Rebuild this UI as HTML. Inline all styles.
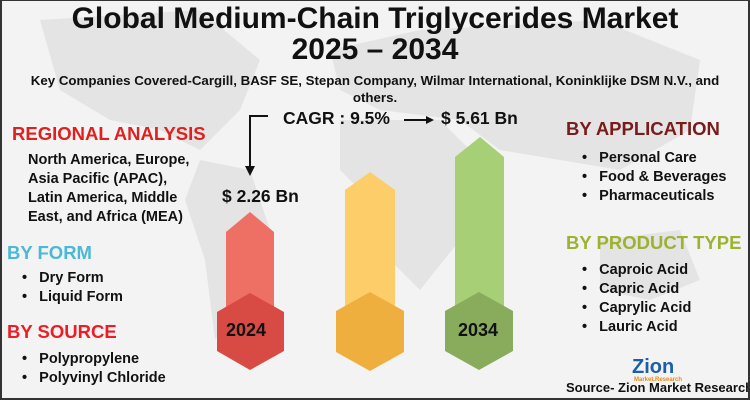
<!DOCTYPE html>
<html><head><meta charset="utf-8"><style>
*{margin:0;padding:0;box-sizing:border-box}
body{width:750px;height:400px;overflow:hidden;background:#f3f3f3;font-family:"Liberation Sans",sans-serif;font-weight:bold;color:#111}
#f{position:absolute;left:0;top:0;width:750px;height:400px;border:2px solid #333;border-top:1px solid #333}
.t{position:absolute;white-space:nowrap}
.h{font-size:18.5px}
.l{font-size:14.5px;line-height:19px}
</style></head><body>
<svg width="750" height="400" style="position:absolute;left:0;top:0">
<g fill="#e4e4e4">
<path d="M40 20 L200 10 L260 60 L240 110 L200 150 L160 130 L110 120 L60 90 Z"/>
<path d="M200 160 L250 170 L270 230 L240 300 L215 340 L205 260 L185 200 Z"/>
<path d="M330 50 L420 30 L600 20 L700 60 L690 130 L620 170 L560 160 L500 150 L460 120 L380 110 L340 90 Z"/>
<path d="M340 120 L440 120 L480 160 L460 240 L420 290 L390 260 L370 200 L340 170 Z"/>
<path d="M600 240 L680 230 L700 280 L650 300 L600 290 Z"/>
</g>
<polyline points="268,116 250,116 250,168" fill="none" stroke="#111" stroke-width="2"/>
<polygon points="245,166 255,166 250,176" fill="#111"/>
<line x1="404" y1="120" x2="428" y2="120" stroke="#111" stroke-width="2"/>
<polygon points="426,116 434,120 426,124" fill="#111"/>
<polygon points="226,232 250,212 274,232 274,320 226,320" fill="#ee6f63"/>
<polygon points="345,190 370,172 395,190 395,320 345,320" fill="#fdcd6a"/>
<polygon points="455,157 480,137 504,157 504,320 455,320" fill="#a7cf76"/>
<polygon points="250,293 284,312 284,351 250,370 217,351 217,312" fill="#d74b44"/>
<polygon points="370,292 404,311 404,352 370,371 336,352 336,311" fill="#eeaf3e"/>
<polygon points="479,292 513,311 513,351 479,370 445,351 445,311" fill="#88ac5c"/>
<text x="632" y="373" font-family="Liberation Sans" font-weight="bold" font-size="20" fill="#1b5fa8">Zion</text>
<text x="634" y="381" font-family="Liberation Sans" font-size="6" fill="#e88a1a">Market.Research</text>
</svg>
<div class="t" style="left:0;width:750px;text-align:center;top:3px;font-size:30px;line-height:31px">Global Medium-Chain Triglycerides Market<br>2025 – 2034</div>
<div class="t" style="left:0;width:750px;text-align:center;top:72px;font-size:13.3px;line-height:17px">Key Companies Covered-Cargill, BASF SE, Stepan Company, Wilmar International, Koninklijke DSM N.V., and<br>others.</div>
<div class="t" style="left:283px;top:108px;font-size:17.5px">CAGR : 9.5%</div>
<div class="t" style="left:441px;top:108px;font-size:17.5px">$ 5.61 Bn</div>
<div class="t" style="left:222px;top:186px;font-size:17.5px">$ 2.26 Bn</div>
<div class="t" style="left:226px;top:320px;font-size:18px">2024</div>
<div class="t" style="left:458px;top:320px;font-size:18px">2034</div>
<div class="t h" style="left:12px;top:123px;color:#e0201f">REGIONAL ANALYSIS</div>
<div class="t l" style="left:28px;top:151px">North America, Europe,<br>Asia Pacific (APAC),<br>Latin America, Middle<br>East, and Africa (MEA)</div>
<div class="t h" style="left:7px;top:242px;color:#4ab8d6">BY FORM</div>
<div class="t l" style="left:22px;top:269px">•&nbsp;&nbsp; Dry Form<br>•&nbsp;&nbsp; Liquid Form</div>
<div class="t h" style="left:7px;top:321px;color:#ee1c24">BY SOURCE</div>
<div class="t l" style="left:22px;top:350px">•&nbsp;&nbsp; Polypropylene<br>•&nbsp;&nbsp; Polyvinyl Chloride</div>
<div class="t h" style="left:566px;top:118px;color:#7a1b1b">BY APPLICATION</div>
<div class="t l" style="left:582px;top:149px">•&nbsp;&nbsp; Personal Care<br>•&nbsp;&nbsp; Food &amp; Beverages<br>•&nbsp;&nbsp; Pharmaceuticals</div>
<div class="t h" style="left:566px;top:232px;color:#9cb331">BY PRODUCT TYPE</div>
<div class="t l" style="left:582px;top:261px">•&nbsp;&nbsp; Caproic Acid<br>•&nbsp;&nbsp; Capric Acid<br>•&nbsp;&nbsp; Caprylic Acid<br>•&nbsp;&nbsp; Lauric Acid</div>
<div class="t" style="left:566px;top:380px;font-size:13px">Source- Zion Market Research</div>
<div id="f"></div>
</body></html>
